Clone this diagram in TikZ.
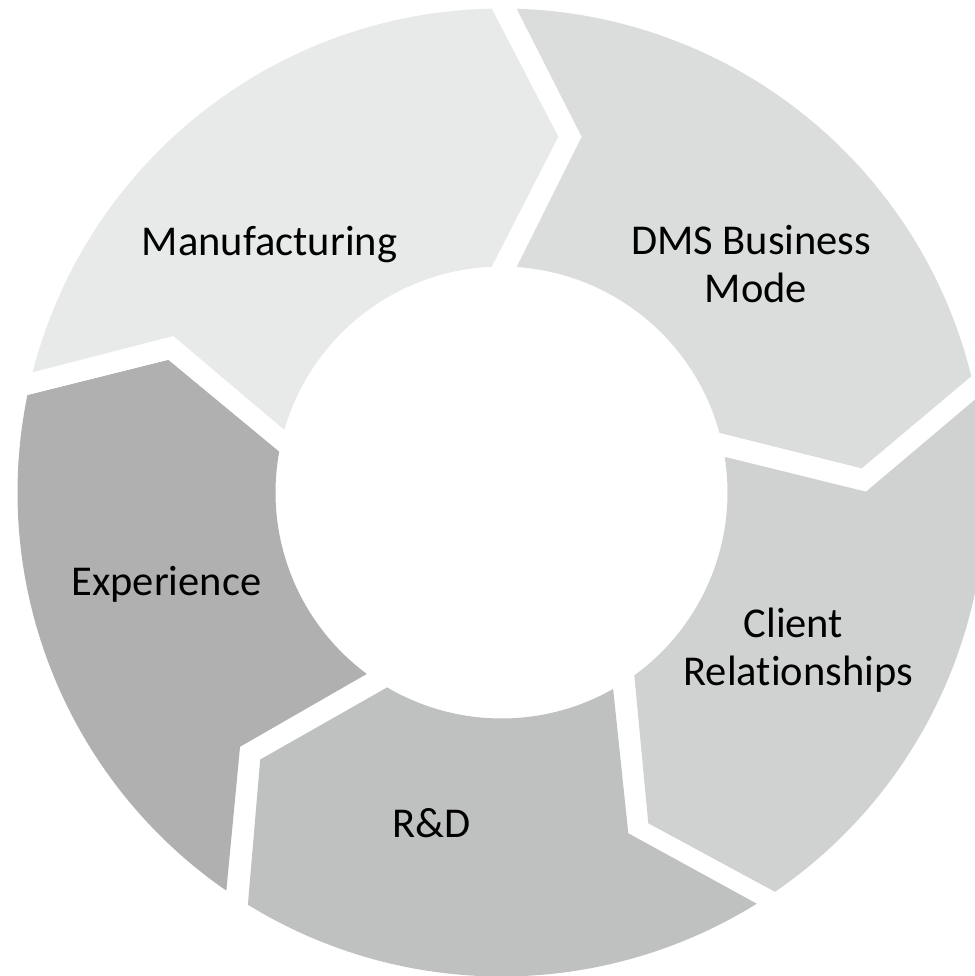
\documentclass[tikz,border=0pt]{standalone}
\usepackage{fontspec}
\setmainfont{Carlito}[Ligatures=NoCommon]
\definecolor{cManu}{RGB}{232,233,233}
\definecolor{cDms}{RGB}{219,220,220}
\definecolor{cClient}{RGB}{208,209,209}
\definecolor{cRnd}{RGB}{191,192,192}
\definecolor{cExp}{RGB}{176,176,176}
\tikzset{
  segment/.style={draw=none},
  lbl/.style={anchor=base, inner sep=0pt, text=black, font=\fontsize{42.5}{48}\selectfont}
}
\begin{document}
\begin{tikzpicture}[x=1pt,y=1pt]
\fill[white] (-501.5,-483.5) rectangle (472.5,492.5);
\useasboundingbox (-501.5,-483.5) rectangle (472.5,492.5);
% Manufacturing
\fill[cManu, segment] (165.6:484pt) arc[start angle=165.6, end angle=91.16, radius=484pt]
  -- (80.93:360.3pt) -- (92.49:226pt) arc[start angle=92.49, end angle=163.9, radius=226pt]
  -- (154.5:363.6pt) -- cycle;
% DMS
\fill[cDms, segment] (88.2:484pt) arc[start angle=88.2, end angle=13.9, radius=484pt]
  -- (3.84:361pt) -- (15.3:226pt) arc[start angle=15.3, end angle=86.15, radius=226pt]
  -- (77.3:364.7pt) -- cycle;
% Client
\fill[cClient, segment] (11.2:484pt) arc[start angle=11.2, end angle=-55.59, radius=484pt]
  -- (-66.07:361.9pt) -- (-54.0:226pt) arc[start angle=-54.0, end angle=9.07, radius=226pt]
  -- (0.13:364.5pt) -- cycle;
% R&D
\fill[cRnd, segment] (-58.17:484pt) arc[start angle=-58.17, end angle=-121.6, radius=484pt]
  -- (-132.1:359.9pt) -- (-120.4:226pt) arc[start angle=-120.4, end angle=-60.4, radius=226pt]
  -- (-69.59:363.6pt) -- cycle;
% Experience
\fill[cExp, segment] (-124.65:484pt) arc[start angle=-124.65, end angle=-191.6, radius=484pt]
  -- (-201.7:358.6pt) -- (-190.4:226pt) arc[start angle=-190.4, end angle=-126.6, radius=226pt]
  -- (-135.8:364.7pt) -- cycle;
% labels
\node[lbl] (manu) at (-232,236.5) {Manufacturing};
\node[lbl] (dms) at (254.5,237.5) {\begin{tabular}[t]{@{}c@{}}DMS Business\hspace*{0.23em}\\Mode\end{tabular}};
\node[lbl] (client) at (296.8,-144.5) {\begin{tabular}[t]{@{}c@{}}Client\hspace*{0.23em}\\Relationships\end{tabular}};
\node[lbl] (rnd) at (-69.8,-345.2) {R\&D};
\node[lbl] (exp) at (-335.2,-103.2) {Experience};
\end{tikzpicture}
\end{document}
